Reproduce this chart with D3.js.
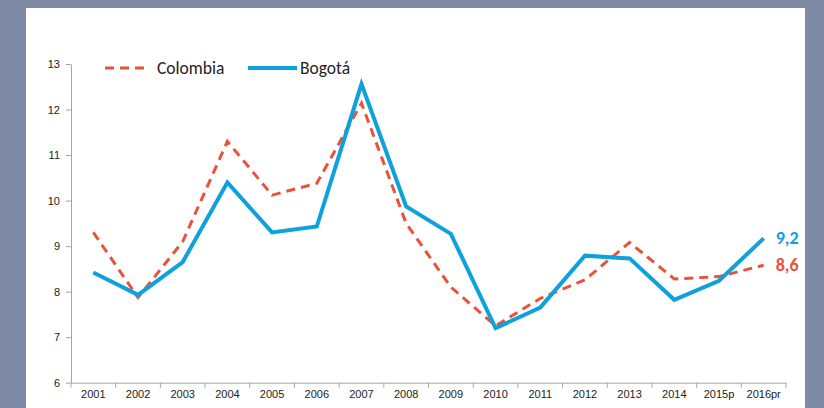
<!DOCTYPE html>
<html><head><meta charset="utf-8">
<script src="https://cdn.jsdelivr.net/npm/d3@7"></script>
<style>
html,body{margin:0;padding:0;background:#7f8aa6;}
svg{display:block;font-family:Carlito,Lato,"Open Sans",sans-serif;}
</style></head>
<body>
<svg id="chart" width="824" height="408"></svg>
<script>
const categories = ["2001","2002","2003","2004","2005","2006","2007","2008","2009","2010","2011","2012","2013","2014","2015p","2016pr"];
const colombia = [9.3, 7.87, 9.1, 11.3, 10.12, 10.38, 12.14, 9.5, 8.1, 7.25, 7.85, 8.26, 9.08, 8.28, 8.33, 8.58];
const bogota = [8.42, 7.93, 8.65, 10.4, 9.3, 9.43, 12.56, 9.87, 9.27, 7.2, 7.65, 8.79, 8.73, 7.82, 8.24, 9.17];
const yTicks = [6,7,8,9,10,11,12,13];
const endLabels = {colombia:"8,6", bogota:"9,2"};

const svg = d3.select("#chart");
svg.append("rect").attr("x",26).attr("y",8).attr("width",779).attr("height",400).attr("fill","#ffffff");

const x = d3.scaleBand().domain(categories).range([71,786]);
const y = d3.scaleLinear().domain([6,13]).range([382.7,64]);

const axisColor = "#a6a6a6";
// y axis
const yAxis = svg.append("g").attr("transform","translate(71,0)")
  .call(d3.axisLeft(y).tickValues(yTicks).tickFormat(d3.format("d")).tickSize(5).tickPadding(6).tickSizeOuter(0));
yAxis.select(".domain").attr("stroke",axisColor);
yAxis.selectAll(".tick line").attr("stroke",axisColor);
yAxis.selectAll("text").attr("font-size",11).attr("fill","#222");

// x axis
const xAxis = svg.append("g").attr("transform","translate(0,382.7)")
  .call(d3.axisBottom(x).tickSize(0).tickPadding(8));
xAxis.select(".domain").attr("stroke",axisColor);
xAxis.selectAll("text").attr("font-size",11).attr("fill","#222");
// boundary ticks
const bounds = categories.map(c=>x(c)).concat([x.range()[1]]);
svg.append("g").selectAll("line").data(bounds).join("line")
  .attr("x1",d=>d).attr("x2",d=>d).attr("y1",382.7).attr("y2",387.7)
  .attr("stroke",axisColor);

const cx = c => x(c) + x.bandwidth()/2;
const line = vals => d3.line().x((d,i)=>cx(categories[i])).y(d=>y(d))(vals);

const orange = "#e8533a", blue = "#0ea1dc";
svg.append("path").attr("d",line(colombia)).attr("fill","none").attr("stroke",orange)
  .attr("stroke-width",3).attr("stroke-dasharray","9,6");
svg.append("path").attr("d",line(bogota)).attr("fill","none").attr("stroke",blue)
  .attr("stroke-width",4).attr("stroke-linejoin","miter");

// end labels
const last = categories.length-1;
svg.append("text").attr("x",cx(categories[last])+12).attr("y",y(bogota[last])+6)
  .attr("font-size",18).attr("font-weight","bold").attr("fill",blue).text(endLabels.bogota);
svg.append("text").attr("x",cx(categories[last])+12).attr("y",y(colombia[last])+6)
  .attr("font-size",18).attr("font-weight","bold").attr("fill",orange).text(endLabels.colombia);

// legend
const lg = svg.append("g");
lg.append("line").attr("x1",105).attr("x2",150).attr("y1",68).attr("y2",68)
  .attr("stroke",orange).attr("stroke-width",3).attr("stroke-dasharray","9,6");
lg.append("text").attr("x",157).attr("y",74).attr("font-size",17.5).attr("fill","#222").text("Colombia");
lg.append("line").attr("x1",248).attr("x2",297).attr("y1",68).attr("y2",68)
  .attr("stroke",blue).attr("stroke-width",4);
lg.append("text").attr("x",300).attr("y",74).attr("font-size",17.5).attr("fill","#222").text("Bogotá");
</script>
</body></html>
